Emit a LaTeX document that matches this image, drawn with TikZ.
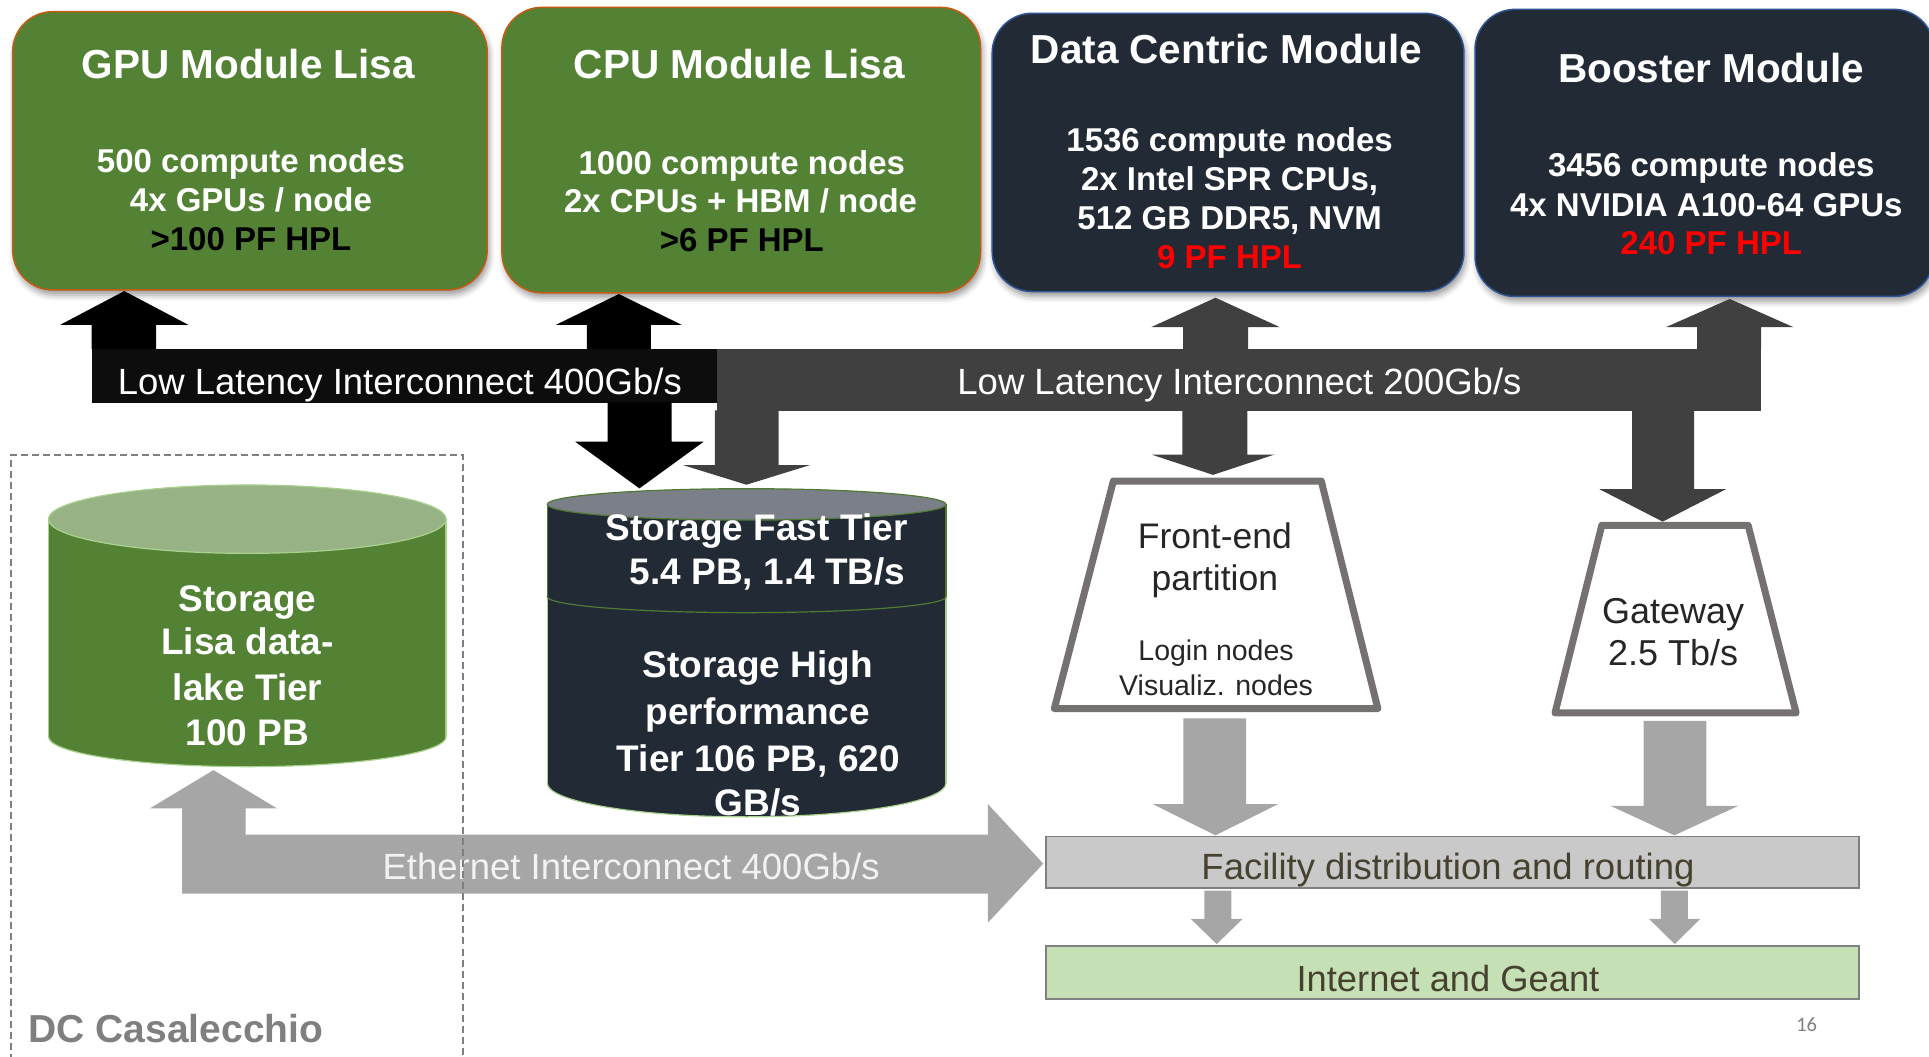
\documentclass[tikz,border=0pt]{standalone}
\usepackage{fontspec}
\setmainfont{Liberation Sans}
\newfontfamily\slidenumfont{Carlito}
\usetikzlibrary{fit,shadows.blur}

\definecolor{modgreen}{HTML}{548235}
\definecolor{modedge}{HTML}{C55A11}
\definecolor{navy}{HTML}{222A35}
\definecolor{navyedge}{HTML}{2F5597}
\definecolor{bandblack}{HTML}{0D0D0D}
\definecolor{banddark}{HTML}{404040}
\definecolor{lightarrow}{HTML}{A6A6A6}
\definecolor{trapline}{HTML}{767171}
\definecolor{trapink}{HTML}{262626}
\definecolor{facfill}{HTML}{C9C9C9}
\definecolor{boxline}{HTML}{808080}
\definecolor{inetfill}{HTML}{C5E0B4}
\definecolor{olivetext}{HTML}{474130}
\definecolor{cyltopgreen}{HTML}{97B386}
\definecolor{cyledge}{HTML}{A9D18E}
\definecolor{darkcyledge}{HTML}{4F7A34}
\definecolor{cyltopgray}{HTML}{7B7F87}
\definecolor{dashgray}{HTML}{7F7F7F}
\definecolor{hplred}{HTML}{FF0000}

% block arrow: style, shaft left, shaft right, head left, head right, y tail, y head base, y tip
\newcommand\blockarrow[8]{%
  \fill[#1] (#2,#6) -- (#2,#7) -- (#4,#7) -- ({(#4+#5)/2},#8) -- (#5,#7) -- (#3,#7) -- (#3,#6) -- cycle;}

\begin{document}
\begin{tikzpicture}[x=1.2302pt,y=-1.2302pt,
  boxshadow/.style={blur shadow={shadow xshift=2pt, shadow yshift=-5pt, shadow blur radius=6pt, shadow opacity=40}},
  greenmod/.style={fill=modgreen, draw=modedge, line width=1.5pt, rounded corners=40pt, inner sep=0pt, boxshadow},
  navymod/.style={fill=navy, draw=navyedge, line width=1.5pt, rounded corners=40pt, inner sep=0pt, boxshadow},
  modtitle/.style={anchor=base, inner sep=0pt, text=white, font=\bfseries\fontsize{40.5}{48}\selectfont},
  modbody/.style={anchor=base, inner sep=0pt, text=white, font=\bfseries\fontsize{33}{39}\selectfont},
  band/.style={inner sep=0pt},
  bandtext/.style={anchor=base, inner sep=0pt, text=white, font=\fontsize{36.5}{44}\selectfont},
  cyltext/.style={anchor=base, inner sep=0pt, text=white, font=\bfseries\fontsize{37}{44}\selectfont},
  trap/.style={draw=trapline, fill=white, line width=7pt, line join=round},
  traptext/.style={anchor=base, inner sep=0pt, text=trapink, font=\fontsize{35.5}{42}\selectfont},
  trapsmall/.style={anchor=base, inner sep=0pt, text=trapink, font=\fontsize{28.5}{34}\selectfont},
  flatbox/.style={draw=boxline, line width=1.8pt, inner sep=0pt},
  flattext/.style={anchor=base, inner sep=0pt, text=olivetext, font=\fontsize{36.5}{44}\selectfont},
  dashbox/.style={draw=dashgray, line width=2pt, dash pattern=on 7pt off 4pt, inner sep=0pt}]

\useasboundingbox (0,0) rectangle (1568,859);

% ---------- compute modules ----------
\node[greenmod, fit={(10.3,9.5) (396,235.7)}] (gpu) {};
\node[greenmod, fit={(408,6) (797,238)}] (cpu) {};
\node[navymod, fit={(806.5,10.8) (1190,237)}] (dcm) {};
\node[navymod, fit={(1199,7.6) (1572,241)}] (boost) {};

\node[modtitle] (gpuT) at (202,64) {GPU Module Lisa};
\node[modbody] (gpuA) at (204,140.5) {500 compute nodes};
\node[modbody] (gpuB) at (204,172) {4x GPUs / node};
\node[modbody, text=black] (gpuC) at (204,203.5) {>100 PF HPL};

\node[modtitle] (cpuT) at (601,64) {CPU Module Lisa};
\node[modbody] (cpuA) at (603,141.5) {1000 compute nodes};
\node[modbody] (cpuB) at (602,173) {2x CPUs + HBM / node};
\node[modbody, text=black] (cpuC) at (603,204.5) {>6 PF HPL};

\node[modtitle] (dcmT) at (997,51.5) {Data Centric Module};
\node[modbody] (dcmA) at (999.5,123.3) {1536 compute nodes};
\node[modbody] (dcmB) at (999.5,155) {2x Intel SPR CPUs,};
\node[modbody] (dcmC) at (999.5,186.4) {512 GB DDR5, NVM};
\node[modbody, text=hplred] (dcmD) at (999.5,218.1) {9 PF HPL};

\node[modtitle] (boostT) at (1391,67.2) {Booster Module};
\node[modbody] (boostA) at (1391,143.6) {3456 compute nodes};
\node[modbody] (boostB) at (1387,175.6) {4x NVIDIA A100-64 GPUs};
\node[modbody, text=hplred] (boostC) at (1391,206.5) {240 PF HPL};

% ---------- low latency interconnects ----------
\node[band, fill=bandblack, fit={(74.4,283.7) (582.6,327.3)}] (ll400) {};
\node[band, fill=banddark, fit={(582.6,283.5) (1431.5,334)}] (ll200) {};
\node[bandtext] (ll400T) at (325,320.5) {Low Latency Interconnect 400Gb/s};
\node[bandtext] (ll200T) at (1007.5,320.5) {Low Latency Interconnect 200Gb/s};

\blockarrow{black}{74.4}{127}{49}{153}{283.7}{264}{236.6}
\blockarrow{black}{477}{529}{452}{554}{283.7}{264}{239}
\blockarrow{banddark}{961.6}{1014.5}{935.6}{1040.5}{283.5}{266}{242}
\blockarrow{banddark}{1379.6}{1431.5}{1354}{1458}{283.5}{266}{243}
\blockarrow{black}{494}{546}{467.5}{572}{327}{359}{397}
\blockarrow{banddark}{581}{633}{555}{658.5}{333.5}{378}{394}
\blockarrow{banddark}{961}{1014}{936}{1036}{333.5}{369.5}{386}
\blockarrow{banddark}{1326.6}{1377}{1300}{1403}{333.5}{397.6}{424}

% ---------- Ethernet interconnect ----------
\fill[lightarrow] (148,726.4) -- (148,657) -- (122,657) -- (173.5,626) -- (225,657)
  -- (199.6,657) -- (199.6,678.4) -- (803,678.4) -- (803,653.6) -- (848,702)
  -- (803,750) -- (803,726.4) -- cycle;
\node[bandtext, text=white!95!black] (ethT) at (513,714.7) {Ethernet Interconnect 400Gb/s};

% ---------- data-lake storage ----------
\filldraw[fill=modgreen, draw=cyledge, line width=1.2pt] (201,598.8) ellipse [x radius=198.9pt, y radius=30pt];
\fill[modgreen] (39.3,422) rectangle (362.6,598.8);
\draw[cyledge, line width=1.2pt] (39.3,422) -- (39.3,598.8) (362.6,422) -- (362.6,598.8);
\filldraw[fill=cyltopgreen, draw=cyledge, line width=1.2pt] (201,422) ellipse [x radius=198.9pt, y radius=34.2pt];
\node[cyltext] (lakeA) at (201.2,497.2) {Storage};
\node[cyltext] (lakeB) at (201.2,532.4) {Lisa data-};
\node[cyltext] (lakeC) at (201.2,569) {lake Tier};
\node[cyltext] (lakeD) at (201.2,605.6) {100 PB};

% ---------- fast and high performance storage ----------
\filldraw[fill=navy, draw=cyledge, line width=1.2pt] (606.9,636.5) ellipse [x radius=199.4pt, y radius=33.8pt];
\fill[navy] (444.8,485) rectangle (769,636.5);
\draw[cyledge, line width=1.2pt] (444.8,485) -- (444.8,636.5) (769,485) -- (769,636.5);
\filldraw[fill=navy, draw=darkcyledge, line width=1.2pt] (606.9,485) ellipse [x radius=199.4pt, y radius=16pt];
\fill[navy] (444.8,410) rectangle (769,485);
\draw[darkcyledge, line width=1.2pt] (444.8,410) -- (444.8,485) (769,410) -- (769,485);
\filldraw[fill=cyltopgray, draw=darkcyledge, line width=1.2pt] (606.9,410) ellipse [x radius=199.4pt, y radius=15.7pt];
\node[cyltext] (fastA) at (615,439.5) {Storage Fast Tier};
\node[cyltext] (fastB) at (624,475.5) {5.4 PB, 1.4 TB/s};
\node[cyltext] (hpA) at (616,551) {Storage High};
\node[cyltext] (hpB) at (616,589) {performance};
\node[cyltext] (hpC) at (616.5,627.3) {Tier 106 PB, 620};
\node[cyltext] (hpD) at (616,662.5) {GB/s};

% ---------- front-end and gateway ----------
\draw[trap] (857,576) -- (905,391) -- (1074,391) -- (1120,576) -- cycle;
\node[traptext] (feA) at (987.5,445.7) {Front-end};
\node[traptext] (feB) at (987.5,479.6) {partition};
\node[trapsmall] (feC) at (988.5,536.5) {Login nodes};
\node[trapsmall] (feD) at (988.5,565.4) {Visualiz. nodes};

\draw[trap] (1264,579.5) -- (1302,427) -- (1421,427) -- (1460,579.5) -- cycle;
\node[traptext, font=\fontsize{36}{42}\selectfont] (gwA) at (1360,506.6) {Gateway};
\node[traptext, font=\fontsize{36}{42}\selectfont] (gwB) at (1360,540.6) {2.5 Tb/s};

\blockarrow{lightarrow}{962}{1013}{937}{1039}{584}{653.6}{679}
\blockarrow{lightarrow}{1336}{1387}{1309}{1413}{586}{655}{679}

% ---------- facility and external network ----------
\node[flatbox, fill=facfill, fit={(850.3,680) (1511,721.6)}] (fac) {};
\node[flattext] (facT) at (1177,714.8) {Facility distribution and routing};
\blockarrow{lightarrow}{979}{1001}{968}{1010}{724}{747}{767.4}
\blockarrow{lightarrow}{1350}{1372}{1340.5}{1382}{724}{747}{767.4}
\node[flatbox, fill=inetfill, fit={(850.3,769) (1511,812.3)}] (inet) {};
\node[flattext, font=\fontsize{36.3}{44}\selectfont] (inetT) at (1177,806) {Internet and Geant};

% ---------- site boundary ----------
\node[dashbox, fit={(9.3,369.5) (376,866)}] (dc) {};
\node[anchor=base west, inner sep=0pt, text=dashgray, font=\bfseries\fontsize{39}{46}\selectfont] (dcT) at (23,847) {DC Casalecchio};

\node[inner sep=0pt, text=dashgray, font=\slidenumfont\fontsize{20.5}{24}\selectfont] (pg) at (1468.6,833) {16};

\end{tikzpicture}
\end{document}
